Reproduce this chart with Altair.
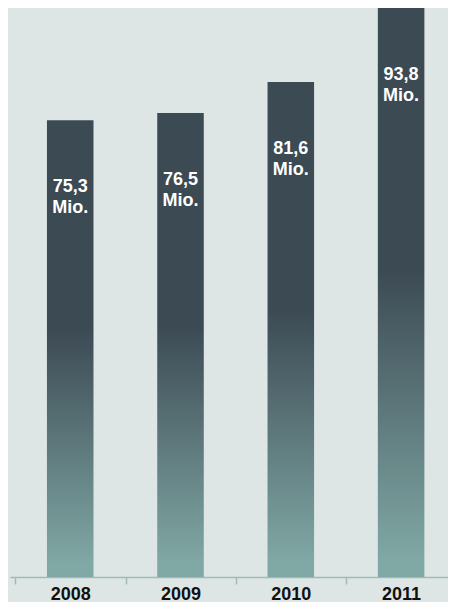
import altair as alt
import pandas as pd

years = ["2008", "2009", "2010", "2011"]
values = [75.3, 76.5, 81.6, 93.8]
labels = [f"{v:.1f}".replace(".", ",") + "\nMio." for v in values]

df = pd.DataFrame({"year": years, "value": values, "label": labels})

DARK = "#3c4a54"
LIGHT = "#80a8a4"
BG = "#dee6e5"
AXIS = "#a2bab7"

grad = alt.LinearGradient(
    gradient="linear",
    x1=0, x2=0, y1=0, y2=1,
    stops=[
        alt.GradientStop(color=DARK, offset=0),
        alt.GradientStop(color=DARK, offset=0.46),
        alt.GradientStop(color=LIGHT, offset=0.97),
        alt.GradientStop(color=LIGHT, offset=1),
    ],
)

x = alt.X(
    "year:N",
    sort=years,
    title=None,
    scale=alt.Scale(paddingInner=0.578, paddingOuter=0.2745, align=0.61),
    axis=alt.Axis(
        labelAngle=0,
        tickOffset=-55,
        labelOffset=55,
        domainColor=AXIS,
        domainWidth=1.5,
        tickColor=AXIS,
        tickWidth=1.5,
        tickSize=7,
        labelFont="Liberation Sans",
        labelFontWeight="bold",
        labelFontSize=18,
        labelColor="#111111",
        labelBaseline="alphabetic",
        labelPadding=15,
    ),
)
y = alt.Y(
    "value:Q",
    title=None,
    scale=alt.Scale(domain=[0, 93.8], nice=False, zero=True),
    axis=None,
)

bars = alt.Chart(df).mark_bar(color=grad).encode(x=x, y=y)

text = alt.Chart(df).mark_text(
    font="Liberation Sans",
    fontWeight="bold",
    fontSize=18,
    color="white",
    align="center",
    baseline="alphabetic",
    lineBreak="\n",
    lineHeight=21,
    dy=72,
).encode(x=x, y=y, text="label:N")

chart = (
    alt.layer(bars, text)
    .properties(
        width=438,
        height=569,
        background=BG,
        padding={"left": 2, "top": 0, "right": 0, "bottom": 25},
        autosize=alt.AutoSizeParams(type="none"),
    )
    .configure_view(stroke=None)
)

chart.save("out.html", embed_options={"renderer": "svg", "actions": False})
